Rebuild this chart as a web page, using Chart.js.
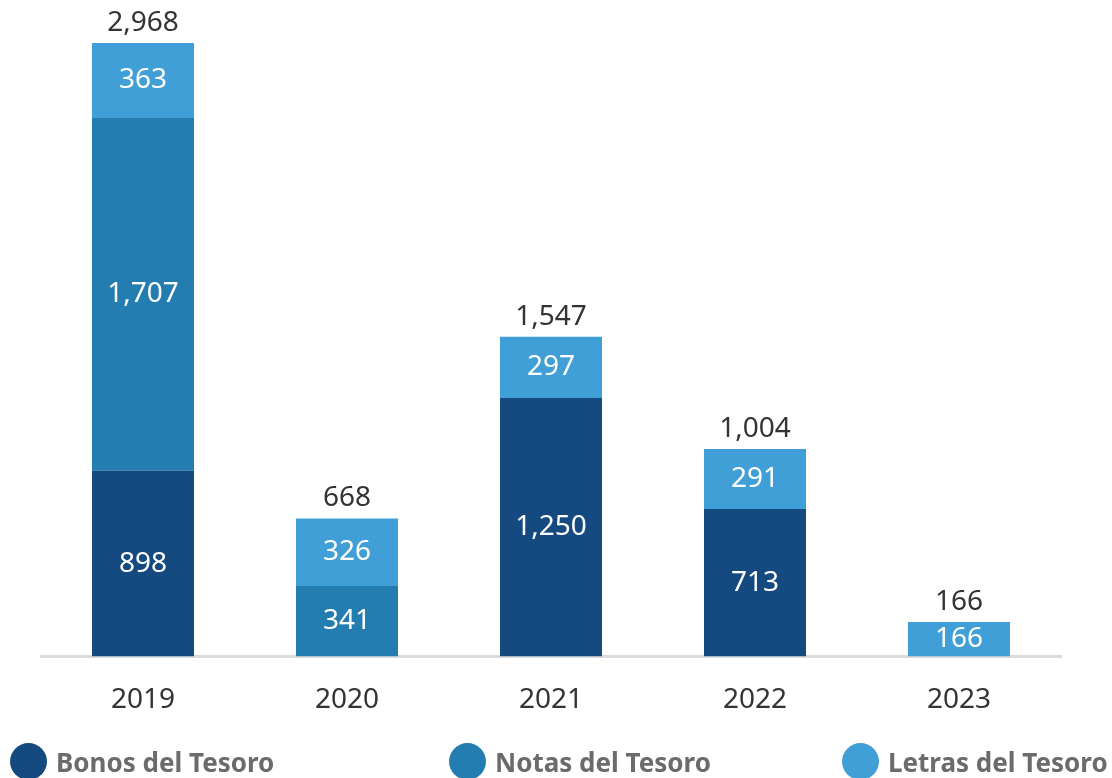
<!DOCTYPE html>
<html>
<head>
<meta charset="utf-8">
<script src="https://cdn.jsdelivr.net/npm/chart.js@4"></script>
<style>
  body { margin: 0; background: #fff; overflow: hidden; }
  #wrap { position: relative; width: 1112px; height: 778px; }
  .leg { position: absolute; top: 743px; display: flex; align-items: center; font-family: "Noto Sans", sans-serif; font-weight: bold; font-size: 26px; color: #6b6b6b; white-space: nowrap; }
  .dot { width: 37px; height: 37px; border-radius: 50%; margin-right: 9px; }
</style>
</head>
<body>
<div id="wrap">
  <canvas id="myChart" width="1112" height="778"></canvas>
  <div class="leg" style="left:10px"><span class="dot" style="background:#154a80"></span>Bonos del Tesoro</div>
  <div class="leg" style="left:449px"><span class="dot" style="background:#237db1"></span>Notas del Tesoro</div>
  <div class="leg" style="left:842px"><span class="dot" style="background:#409fd6"></span>Letras del Tesoro</div>
</div>
<script>
// data for chart
const years = ["2019", "2020", "2021", "2022", "2023"];
const bonos = [898, 0, 1250, 713, 0];
const notas = [1707, 341, 0, 0, 0];
const letras = [363, 326, 297, 291, 166];
const totals = [2968, 668, 1547, 1004, 166];
const barColors = ["#154a80", "#237db1", "#409fd6"];

const fmt = (v) => v.toLocaleString("en-US");

// numbers inside the segments and totals on top
const labelPlugin = {
  id: "labels",
  afterDatasetsDraw(chart) {
    const ctx = chart.ctx;
    ctx.save();
    ctx.font = "28px 'Noto Sans', sans-serif";
    ctx.textAlign = "center";
    ctx.textBaseline = "middle";
    chart.data.datasets.forEach((ds, i) => {
      chart.getDatasetMeta(i).data.forEach((bar, j) => {
        if (!ds.data[j]) return;
        ctx.fillStyle = "#ffffff";
        ctx.fillText(fmt(ds.data[j]), bar.x, (bar.y + bar.base) / 2);
      });
    });
    const last = chart.getDatasetMeta(2).data;
    ctx.fillStyle = "#333333";
    totals.forEach((t, j) => {
      const y = chart.scales.y.getPixelForValue(t);
      ctx.fillText(fmt(t), last[j].x, y - 20);
    });
    ctx.restore();
  },
};

new Chart("myChart", {
  type: "bar",
  data: {
    labels: years,
    datasets: [
      { label: "Bonos del Tesoro", data: bonos, backgroundColor: barColors[0] },
      { label: "Notas del Tesoro", data: notas, backgroundColor: barColors[1] },
      { label: "Letras del Tesoro", data: letras, backgroundColor: barColors[2] },
    ],
  },
  options: {
    responsive: false,
    animation: false,
    layout: { padding: { top: 43, left: 41, right: 51, bottom: 42 } },
    datasets: { bar: { categoryPercentage: 1, barPercentage: 0.5 } },
    plugins: { legend: { display: false }, tooltip: { enabled: false } },
    scales: {
      x: {
        stacked: true,
        grid: { display: false },
        border: { color: "#dcdcdc", width: 3 },
        ticks: { color: "#333333", padding: 19, font: { family: "'Noto Sans', sans-serif", size: 28 } },
      },
      y: { stacked: true, display: false, min: 0, max: 2968 },
    },
  },
  plugins: [labelPlugin],
});
</script>
</body>
</html>
